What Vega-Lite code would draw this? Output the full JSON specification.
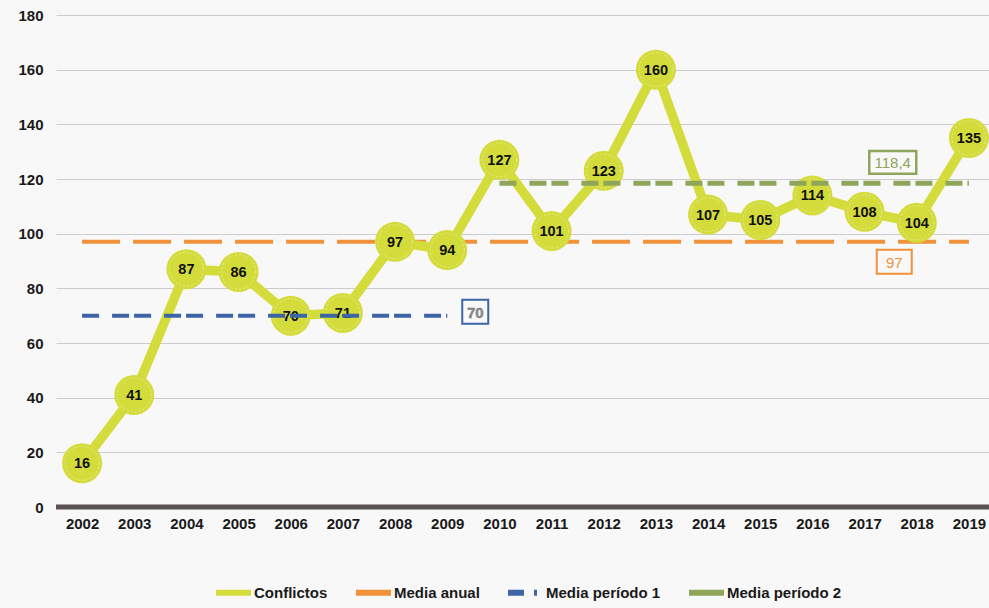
{
  "$schema": "https://vega.github.io/schema/vega-lite/v6.json",
  "autosize": {"type": "none"},
  "padding": {"left": 56, "top": 15, "right": 0, "bottom": 101},
  "width": 939,
  "height": 492,
  "background": "#f8f8f8",
  "config": {
    "view": {"stroke": null},
    "font": "Liberation Sans",
    "axis": {"labelFont": "Liberation Sans", "labelFontSize": 15, "labelFontWeight": "bold", "labelColor": "#1a1a1a", "ticks": false, "domain": false, "title": null}
  },
  "datasets": {
    "conf": [
      {"year": 2002, "value": 16, "serie": "Conflictos"},
      {"year": 2003, "value": 41, "serie": "Conflictos"},
      {"year": 2004, "value": 87, "serie": "Conflictos"},
      {"year": 2005, "value": 86, "serie": "Conflictos"},
      {"year": 2006, "value": 70, "serie": "Conflictos"},
      {"year": 2007, "value": 71, "serie": "Conflictos"},
      {"year": 2008, "value": 97, "serie": "Conflictos"},
      {"year": 2009, "value": 94, "serie": "Conflictos"},
      {"year": 2010, "value": 127, "serie": "Conflictos"},
      {"year": 2011, "value": 101, "serie": "Conflictos"},
      {"year": 2012, "value": 123, "serie": "Conflictos"},
      {"year": 2013, "value": 160, "serie": "Conflictos"},
      {"year": 2014, "value": 107, "serie": "Conflictos"},
      {"year": 2015, "value": 105, "serie": "Conflictos"},
      {"year": 2016, "value": 114, "serie": "Conflictos"},
      {"year": 2017, "value": 108, "serie": "Conflictos"},
      {"year": 2018, "value": 104, "serie": "Conflictos"},
      {"year": 2019, "value": 135, "serie": "Conflictos"}
    ],
    "means": [
      {"year": 2002, "value": 97, "serie": "Media anual"},
      {"year": 2019, "value": 97, "serie": "Media anual"},
      {"year": 2002, "value": 70, "serie": "Media período 1"},
      {"year": 2009, "value": 70, "serie": "Media período 1"},
      {"year": 2010, "value": 118.4, "serie": "Media período 2"},
      {"year": 2019, "value": 118.4, "serie": "Media período 2"}
    ],
    "ann": [
      {"year": 2009, "value": 70, "label": "70", "serie": "Media período 1"},
      {"year": 2018, "value": 97, "label": "97", "serie": "Media anual"},
      {"year": 2018, "value": 118.4, "label": "118,4", "serie": "Media período 2"}
    ],
    "zero": [{"value": 0}]
  },
  "layer": [
    {
      "data": {"name": "zero"},
      "mark": {"type": "rule", "color": "#5a5552", "strokeWidth": 5},
      "encoding": {
        "y": {"field": "value", "type": "quantitative", "scale": {"domain": [0, 180], "nice": false},
              "axis": {"values": [0, 20, 40, 60, 80, 100, 120, 140, 160, 180], "grid": true, "gridColor": "#cccccc", "gridWidth": 1, "labelPadding": 13}}
      }
    },
    {
      "data": {"name": "means"},
      "transform": [{"filter": "datum.serie === 'Media anual'"}],
      "mark": {"type": "line", "strokeWidth": 4, "strokeDash": [38, 13], "strokeCap": "butt"},
      "encoding": {
        "x": {"field": "year", "type": "ordinal", "scale": {"type": "point", "padding": 0.5}, "axis": {"labelAngle": 0, "labelPadding": 9}},
        "y": {"field": "value", "type": "quantitative"},
        "color": {"field": "serie", "type": "nominal",
          "scale": {"domain": ["Conflictos", "Media anual", "Media período 1", "Media período 2"], "range": ["#d4dc3c", "#f0923a", "#3d64a6", "#8ea55a"]},
          "legend": {"orient": "none", "legendX": 157, "legendY": 557, "direction": "horizontal", "title": null,
            "labelFont": "Liberation Sans", "labelFontSize": 15, "labelFontWeight": "bold", "labelColor": "#1a1a1a",
            "symbolType": "stroke", "symbolSize": 1225, "symbolStrokeWidth": 6, "columnPadding": 16, "labelOffset": 0,
            "encode": {"symbols": {"update": {
              "strokeDash": {"signal": "datum.value === 'Media período 1' ? [16, 10, 3, 30] : []"}
            }}}}
        }
      }
    },
    {
      "data": {"name": "conf"},
      "mark": {"type": "line", "strokeWidth": 9.5},
      "encoding": {
        "x": {"field": "year", "type": "ordinal"},
        "y": {"field": "value", "type": "quantitative"},
        "color": {"field": "serie", "type": "nominal"}
      }
    },
    {
      "data": {"name": "conf"},
      "mark": {"type": "point", "shape": "circle", "filled": true, "color": "#d4dc3c", "opacity": 1, "size": 1600},
      "encoding": {
        "x": {"field": "year", "type": "ordinal"},
        "y": {"field": "value", "type": "quantitative"}
      }
    },
    {
      "data": {"name": "conf"},
      "mark": {"type": "point", "shape": "circle", "filled": false, "stroke": "#ffffff", "strokeWidth": 0.8, "strokeDash": [2, 2], "opacity": 0.5, "size": 1156},
      "encoding": {
        "x": {"field": "year", "type": "ordinal"},
        "y": {"field": "value", "type": "quantitative"}
      }
    },
    {
      "data": {"name": "conf"},
      "mark": {"type": "text", "font": "Liberation Sans", "fontSize": 14.5, "fontWeight": "bold", "color": "#111111", "baseline": "middle", "align": "center", "dy": 1},
      "encoding": {
        "x": {"field": "year", "type": "ordinal"},
        "y": {"field": "value", "type": "quantitative"},
        "text": {"field": "value", "type": "quantitative"}
      }
    },
    {
      "data": {"name": "means"},
      "transform": [{"filter": "datum.serie === 'Media período 1'"}],
      "mark": {"type": "line", "strokeWidth": 4, "strokeDash": [17, 13, 17, 5], "strokeCap": "butt"},
      "encoding": {
        "x": {"field": "year", "type": "ordinal"},
        "y": {"field": "value", "type": "quantitative"},
        "color": {"field": "serie", "type": "nominal"}
      }
    },
    {
      "data": {"name": "means"},
      "transform": [{"filter": "datum.serie === 'Media período 2'"}],
      "mark": {"type": "line", "strokeWidth": 5, "strokeDash": [17, 13, 17, 5], "strokeCap": "butt"},
      "encoding": {
        "x": {"field": "year", "type": "ordinal"},
        "y": {"field": "value", "type": "quantitative"},
        "color": {"field": "serie", "type": "nominal"}
      }
    },
    {
      "data": {"name": "ann"},
      "transform": [{"filter": "datum.label === '70'"}],
      "layer": [
        {"mark": {"type": "point", "shape": "M-1,-0.92H1V0.92H-1Z", "size": 676, "filled": true, "fill": "#f8f8f8", "stroke": "#3d64a6", "strokeWidth": 2, "opacity": 1, "xOffset": 28, "yOffset": -4}},
        {"mark": {"type": "text", "font": "Liberation Sans", "fontSize": 15, "fontWeight": "bold", "color": "#8c8c8c", "stroke": "#6f6f6f", "strokeWidth": 0.4, "align": "center", "baseline": "middle", "xOffset": 28, "yOffset": -3}}
      ],
      "encoding": {
        "x": {"field": "year", "type": "ordinal"},
        "y": {"field": "value", "type": "quantitative"},
        "text": {"field": "label", "type": "nominal"}
      }
    },
    {
      "data": {"name": "ann"},
      "transform": [{"filter": "datum.label === '97'"}],
      "layer": [
        {"mark": {"type": "point", "shape": "M-1,-0.686H1V0.686H-1Z", "size": 1225, "filled": true, "fill": "#f8f8f8", "stroke": "#f0923a", "strokeWidth": 2, "opacity": 1, "xOffset": -22.5, "yOffset": 20}},
        {"mark": {"type": "text", "font": "Liberation Sans", "fontSize": 15, "color": "#f0923a", "align": "center", "baseline": "middle", "xOffset": -22.5, "yOffset": 21}}
      ],
      "encoding": {
        "x": {"field": "year", "type": "ordinal"},
        "y": {"field": "value", "type": "quantitative"},
        "text": {"field": "label", "type": "nominal"}
      }
    },
    {
      "data": {"name": "ann"},
      "transform": [{"filter": "datum.label === '118,4'"}],
      "layer": [
        {"mark": {"type": "point", "shape": "M-1,-0.489H1V0.489H-1Z", "size": 2209, "filled": true, "fill": "#f8f8f8", "stroke": "#8ea55a", "strokeWidth": 2.5, "opacity": 1, "xOffset": -24, "yOffset": -21}},
        {"mark": {"type": "text", "font": "Liberation Sans", "fontSize": 15, "color": "#8ea55a", "align": "center", "baseline": "middle", "xOffset": -24, "yOffset": -20}}
      ],
      "encoding": {
        "x": {"field": "year", "type": "ordinal"},
        "y": {"field": "value", "type": "quantitative"},
        "text": {"field": "label", "type": "nominal"}
      }
    }
  ]
}
